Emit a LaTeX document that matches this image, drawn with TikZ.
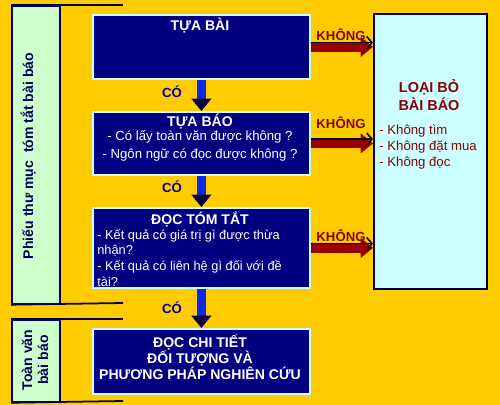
\documentclass[tikz,border=0pt]{standalone}
\usepackage{fontspec}
\setmainfont{Liberation Sans}
\usepackage{xcolor}
\usepackage{tikz}
\usetikzlibrary{positioning,calc,arrows.meta}

\definecolor{bgyellow}{RGB}{255,204,0}
\definecolor{navybox}{RGB}{0,0,128}
\definecolor{navyline}{RGB}{0,0,90}
\definecolor{mintbox}{RGB}{204,255,204}
\definecolor{cyanbox}{RGB}{204,255,255}
\definecolor{nored}{RGB}{140,0,0}
\definecolor{arrowred}{RGB}{150,0,0}
\definecolor{yesblue}{RGB}{0,0,153}
\definecolor{arrowblue}{RGB}{10,40,230}
\definecolor{headblue}{RGB}{0,0,60}

\begin{document}
\begin{tikzpicture}[x=0.02cm, y=-0.02cm,
    every node/.style={font=\fontsize{7.5}{9}\selectfont},
    stepbox/.style={draw=cyanbox, line width=1pt, fill=navybox, minimum width=4.34cm, anchor=north west},
    sidebox/.style={draw=navyline, line width=1pt, fill=mintbox, minimum width=0.96cm, anchor=north west},
    steptitle/.style={text=white, align=center, font=\fontsize{8}{9}\selectfont\bfseries},
    stepbody/.style={text=white, inner sep=0pt},
    yeslabel/.style={text=yesblue, font=\fontsize{7.5}{9}\selectfont\bfseries},
    nolabel/.style={text=nored, font=\fontsize{7.5}{9}\selectfont\bfseries},
    sidetext/.style={text=navyline, rotate=90, align=center, font=\fontsize{8}{9}\selectfont\bfseries},
    downarrow/.style={line width=5.5pt, draw=arrowblue, -{Triangle[length=7pt,width=11pt,color=headblue]}},
    noarrow/.style={line width=5.5pt, draw=arrowred, -{Triangle[length=7pt,width=11pt]},
      postaction={draw=black, line width=0.9pt, -{Straight Barb[length=3pt,width=7pt]}, transform canvas={yshift=2.4pt}}}
  ]

  % nen
  \fill[bgyellow] (0,0) rectangle (500,405);
  \useasboundingbox (0,0) rectangle (500,405);

  % cot ben trai
  \node[sidebox, minimum height=5.96cm] (phieu) at (11,5) {};
  \node[sidebox, minimum height=1.64cm] (toanvan) at (11,319) {};
  \coordinate (phieutop) at (123,5);
  \coordinate (phieubot) at (123,303);
  \coordinate (toanvantop) at (123,319);
  \coordinate (toanvanbot) at (123,401);
  \draw[navyline, line width=1pt] (phieu.north west) -- (phieutop);
  \draw[navyline, line width=1pt] (phieu.south west) -- (phieubot);
  \draw[navyline, line width=1pt] (toanvan.north west) -- (toanvantop);
  \draw[navyline, line width=1pt] (toanvan.south west) -- (toanvanbot);
  \node[sidetext] (phieutxt) at (28,156) {Phiếu thư mục\ \ tóm tắt bài báo};
  \node[sidetext] (toanvantxt) at (35,360) {Toàn văn\\bài báo};

  % cac buoc
  \node[stepbox, minimum height=1.28cm] (tuabai) at (92,14) {};
  \node[steptitle] (tuabaitxt) at (200,26) {TỰA BÀI};

  \node[stepbox, minimum height=1.26cm] (tuabao) at (92,111) {};
  \node[steptitle] (tuabaotxt) at (200,122) {TỰA BÁO};
  \node[stepbody, align=center] (tuabaobody) at (200,146)
    {- Có lấy toàn văn được không ?\\[1pt]- Ngôn ngữ có đọc được không ?};

  \node[stepbox, minimum height=1.6cm] (tomtat) at (92,207) {};
  \node[steptitle] (tomtattxt) at (200,219) {ĐỌC TÓM TẮT};
  \node[stepbody, align=left, anchor=west, font=\fontsize{7.3}{9}\selectfont] (tomtatbody) at (97,258)
    {- Kết quả có giá trị gì được thừa\\nhận?\\- Kết quả có liên hệ gì đối với đề\\tài?};

  \node[stepbox, minimum height=1.3cm] (chitiet) at (92,328) {};
  \node[steptitle] (chitiettxt) at (200,357)
    {ĐỌC CHI TIẾT\\ĐỐI TƯỢNG VÀ\\PHƯƠNG PHÁP NGHIÊN CỨU};

  % hop loai bo
  \node[draw=navyline, line width=1.2pt, fill=cyanbox, minimum width=2.26cm, minimum height=5.5cm, anchor=north west] (loai) at (373,13) {};
  \node[nolabel, align=center, font=\fontsize{8.2}{9}\selectfont\bfseries] (loaitxt) at (429,95) {LOẠI BỎ\\[1pt]BÀI BÁO};
  \node[text=nored, align=left, anchor=west, inner sep=0pt] (loaibody) at (379,147)
    {- Không tìm\\- Không đặt mua\\- Không đọc};

  % mui ten CO
  \draw[downarrow] (tuabai.south) -- (tuabao.north);
  \draw[downarrow] (tuabao.south) -- (tomtat.north);
  \draw[downarrow] (tomtat.south) -- (chitiet.north);
  \node[yeslabel] (co1) at (172,92) {CÓ};
  \node[yeslabel] (co2) at (172,187) {CÓ};
  \node[yeslabel] (co3) at (172,308) {CÓ};

  % mui ten KHONG
  \draw[noarrow] (tuabai.east) -- (tuabai.east -| loai.west);
  \draw[noarrow] (tuabao.east) -- (tuabao.east -| loai.west);
  \draw[noarrow] (tomtat.east) -- (tomtat.east -| loai.west);
  \node[nolabel] (khong1) at (341,35) {KHÔNG};
  \node[nolabel] (khong2) at (341,123) {KHÔNG};
  \node[nolabel] (khong3) at (341,236) {KHÔNG};

\end{tikzpicture}
\end{document}
